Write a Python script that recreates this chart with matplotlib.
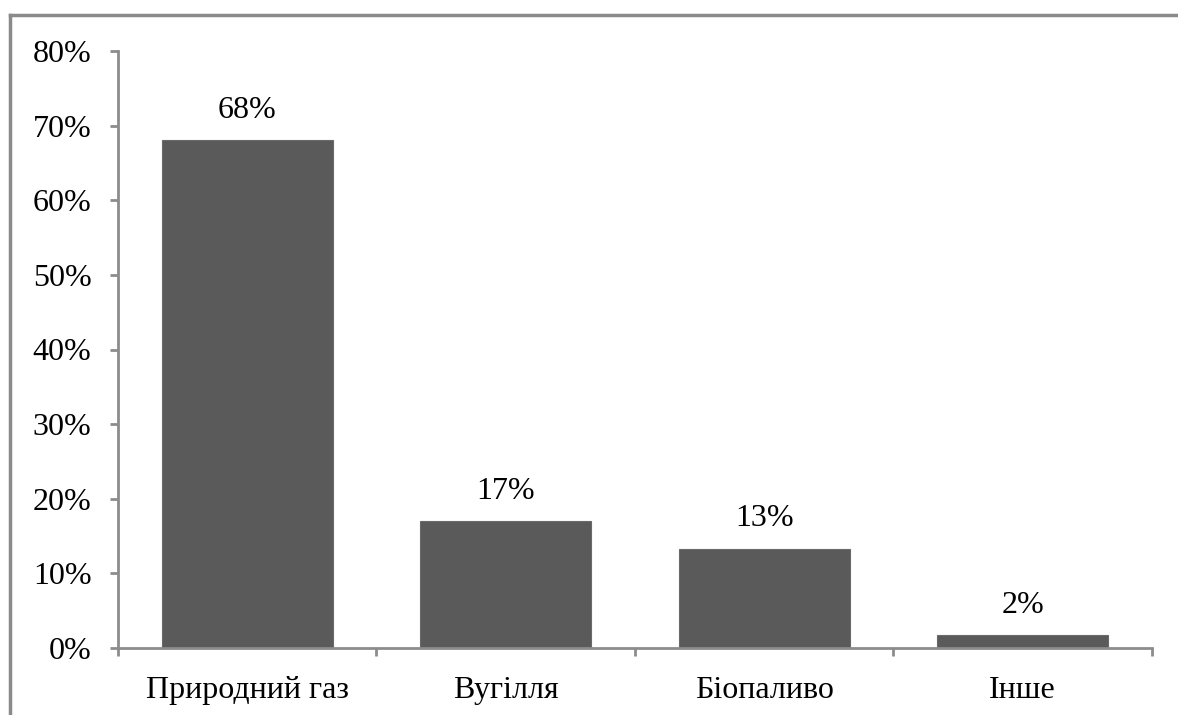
import numpy as np
import matplotlib
matplotlib.use('Agg')
import matplotlib.pyplot as plt
from matplotlib.lines import Line2D

categories = ['Природний газ', 'Вугілля', 'Біопаливо', 'Інше']
shares = [68.1, 17.0, 13.3, 1.7]
labels = ['68%', '17%', '13%', '2%']
yticks = [0, 10, 20, 30, 40, 50, 60, 70, 80]

plt.rcParams['font.family'] = ['Liberation Serif', 'DejaVu Serif']

fig = plt.figure(figsize=(11.78, 7.15), dpi=100)
ax = fig.add_axes([118/1178, 1 - 648/715, (1152 - 118)/1178, (648 - 51)/715])

axis_col = '#8c8c8c'
fs = 23
x = np.arange(len(categories))
bars = ax.bar(x, shares, width=0.66, color='#5a5a5a', edgecolor='#6a6a6a', linewidth=0.8, zorder=2)

for b, lab in zip(bars, labels):
    ax.annotate(lab, (b.get_x() + b.get_width() / 2, b.get_height()),
                xytext=(0, 11), textcoords='offset points',
                ha='center', va='bottom', fontsize=fs)

ax.set_xlim(-0.5, len(categories) - 0.5)
ax.set_ylim(0, 80)
ax.set_yticks(yticks)
ax.set_yticklabels(['%d%%' % v for v in yticks])
ax.set_xticks(x)
ax.set_xticklabels(categories)
ax.set_xticks(np.arange(len(categories) + 1) - 0.5, minor=True)

ax.tick_params(axis='y', direction='out', length=6, width=2, color=axis_col, pad=13, labelsize=fs)
ax.tick_params(axis='x', which='major', length=0, pad=20, labelsize=fs)
ax.tick_params(axis='x', which='minor', direction='out', length=6, width=2, color=axis_col)

for s in ['top', 'right']:
    ax.spines[s].set_visible(False)
for s in ['left', 'bottom']:
    ax.spines[s].set_color(axis_col)
    ax.spines[s].set_linewidth(2)

# outer frame (only left and top visible in the crop)
fx = 10 / 1178
fy = 1 - 15 / 715
fig.add_artist(Line2D([fx, fx], [0, fy], transform=fig.transFigure, color='#8a8a8a', lw=2.5))
fig.add_artist(Line2D([fx, 1], [fy, fy], transform=fig.transFigure, color='#8a8a8a', lw=2.5))

fig.savefig('out.png', dpi=100)
